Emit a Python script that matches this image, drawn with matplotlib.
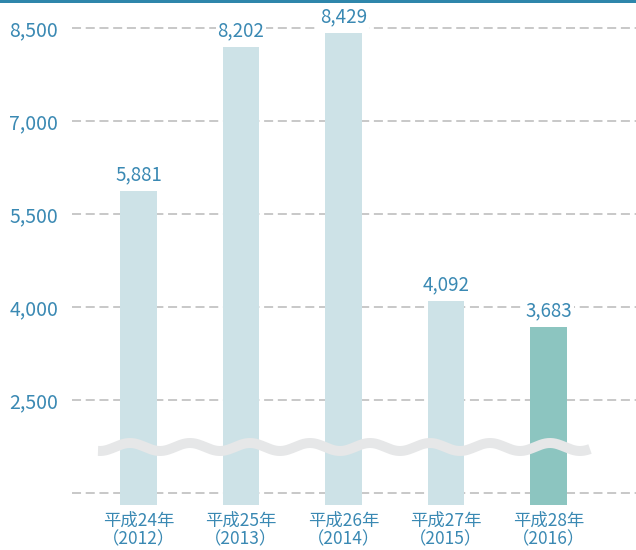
import numpy as np
import matplotlib.pyplot as plt
from matplotlib.patches import Rectangle

plt.rcParams['font.family'] = ['Noto Sans CJK JP', 'DejaVu Sans']

categories = ['平成24年\n（2012）', '平成25年\n（2013）', '平成26年\n（2014）',
              '平成27年\n（2015）', '平成28年\n（2016）']
values = [5881, 8202, 8429, 4092, 3683]
ytick_values = [1000, 2500, 4000, 5500, 7000, 8500]
ytick_labels = ['', '2,500', '4,000', '5,500', '7,000', '8,500']

blue = '#3a89b3'
bar_colors = ['#cde2e7'] * 4 + ['#8cc5c0']

W, H = 636, 550
fig = plt.figure(figsize=(W / 100, H / 100), dpi=100)
ax = fig.add_axes([72 / W, 45 / H, 1 - 72 / W, 485 / H])

y0 = 801
ax.set_ylim(y0, 8637)
ax.set_xlim(-0.649, 4.854)

# dashed grid
for v in ytick_values:
    ax.axhline(v, color='#c4c4c4', lw=1.3, ls=(0, (5.0, 2.6)), zorder=0)

x = np.arange(len(values))
ax.bar(x, [v - y0 for v in values], bottom=y0, width=0.36,
       color=bar_colors, zorder=2)

for xi, v in zip(x, values):
    ax.annotate(f'{v:,}', (xi, v), xytext=(0, 4), textcoords='offset points',
                ha='center', va='bottom', color=blue, fontsize=13.5, zorder=4,
                bbox=dict(boxstyle='square,pad=0.1', fc='white', ec='none'))

ax.set_yticks(ytick_values)
ax.set_yticklabels(ytick_labels, color=blue, fontsize=14)
ax.set_xticks(x)
ax.set_xticklabels(categories, color=blue, fontsize=12.5, linespacing=1.0)
ax.tick_params(axis='both', length=0)
ax.tick_params(axis='y', pad=10)
ax.tick_params(axis='x', pad=5)
for s in ax.spines.values():
    s.set_visible(False)

# axis break wave
wx = np.linspace(98, 590, 400)
wy = 447 - 4 * np.cos(2 * np.pi * (wx - 130) / 60)
ax.plot(wx / W, 1 - wy / H, transform=fig.transFigure, color='#e6e7e8',
        lw=7.2, solid_capstyle='butt', clip_on=False, zorder=5)

# top border
fig.add_artist(Rectangle((0, 1 - 3 / H), 1, 3 / H, transform=fig.transFigure,
                         color='#2e86ab', lw=0))

fig.savefig('out.png', dpi=100)
